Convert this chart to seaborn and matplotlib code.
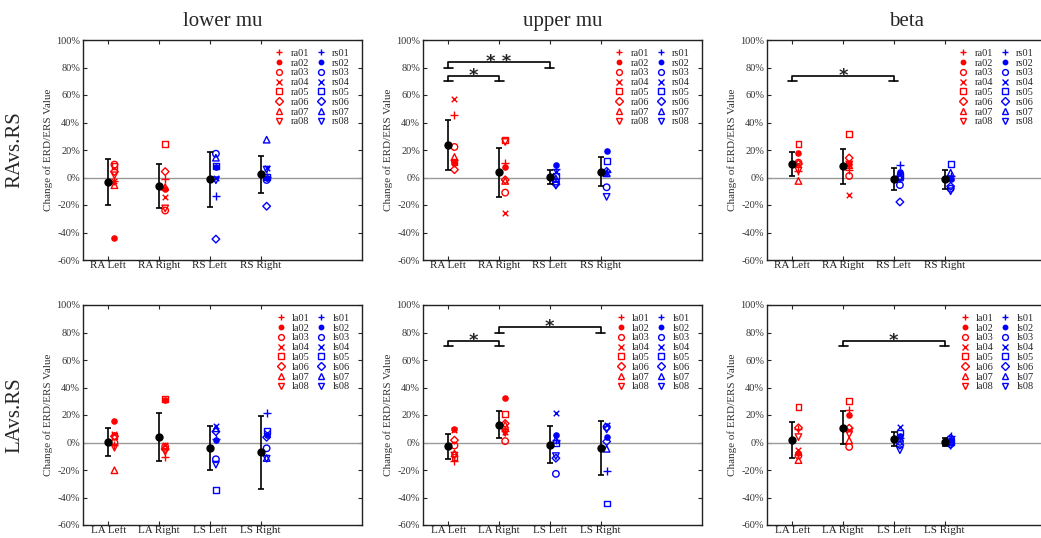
import numpy as np
import matplotlib
matplotlib.use("Agg")
import matplotlib.pyplot as plt
from matplotlib.lines import Line2D
import seaborn as sns

sns.set_style("ticks")
plt.rcParams["font.family"] = ["Liberation Serif", "DejaVu Serif"]
plt.rcParams["xtick.direction"] = "in"
plt.rcParams["ytick.direction"] = "in"

# ---------------------------------------------------------------- data
bands = ["lower mu", "upper mu", "beta"]
row_labels = ["RAvs.RS", "LAvs.RS"]
top_conditions = ["RA Left", "RA Right", "RS Left", "RS Right"]
bottom_conditions = ["LA Left", "LA Right", "LS Left", "LS Right"]
top_subjects_a = ["ra01", "ra02", "ra03", "ra04", "ra05", "ra06", "ra07", "ra08"]
top_subjects_s = ["rs01", "rs02", "rs03", "rs04", "rs05", "rs06", "rs07", "rs08"]
bottom_subjects_a = ["la01", "la02", "la03", "la04", "la05", "la06", "la07", "la08"]
bottom_subjects_s = ["ls01", "ls02", "ls03", "ls04", "ls05", "ls06", "ls07", "ls08"]
yticks = [-60, -40, -20, 0, 20, 40, 60, 80, 100]

# per-subject change of ERD/ERS (%), one row per condition, subjects 01..08
top_lower_mu_pts = [
    [-2.7, -43.8, 9.4, -2.7, 8.2, 4.3, -5.6, 1.6],
    [-0.8, -8.0, -24.0, -14.4, 24.5, 4.3, -7.0, -22.5],
    [-13.2, 7.7, 17.3, -0.3, 8.4, -44.8, 14.4, -2.0],
    [0.4, 0.0, -1.8, 7.0, 0.5, -20.9, 27.5, 5.7],
]
top_lower_mu_mean = [-3.3, -6.0, -1.3, 2.4]
top_lower_mu_sd = [17.0, 16.0, 20.0, 13.4]
top_lower_mu_sig = []

top_upper_mu_pts = [
    [45.6, 10.5, 22.2, 56.9, 11.3, 5.7, 14.9, 10.1],
    [10.8, 7.7, -11.0, -25.8, 27.0, -1.7, -2.5, 25.8],
    [6.0, 8.9, -3.0, 4.0, 0.9, -4.9, -0.8, -5.9],
    [4.0, 19.4, -7.1, 3.3, 11.7, 4.5, 3.0, -14.1],
]
top_upper_mu_mean = [23.6, 3.8, 0.4, 4.2]
top_upper_mu_sd = [18.0, 18.0, 5.3, 10.7]
top_upper_mu_sig = [(0, 1, 70, "*"), (0, 2, 80, "* *")]

top_beta_pts = [
    [4.5, 17.8, 10.8, 10.0, 24.1, 9.8, -2.5, 5.0],
    [5.7, 10.1, 1.1, -12.9, 31.8, 14.2, 8.9, 9.5],
    [9.3, 4.3, -5.5, 2.8, 1.1, -17.8, 0.0, -1.3],
    [1.4, -0.8, -8.1, 0.0, 9.6, -6.4, 3.5, -10.0],
]
top_beta_mean = [9.8, 8.2, -1.2, -1.3]
top_beta_sd = [8.4, 12.7, 8.2, 6.7]
top_beta_sig = [(0, 2, 70, "*")]

bottom_lower_mu_pts = [
    [-2.0, 15.6, -0.1, 5.9, 4.5, 4.5, -20.2, -3.8],
    [-10.3, 31.0, -3.0, -1.8, 31.6, -4.7, -3.0, -6.7],
    [2.5, 1.8, -12.2, 12.0, -34.3, 7.9, 10.3, -16.1],
    [21.7, 5.5, -4.2, 6.9, 8.6, 3.8, -11.3, -11.8],
]
bottom_lower_mu_mean = [0.6, 4.0, -3.8, -7.2]
bottom_lower_mu_sd = [10.3, 17.3, 15.9, 26.7]
bottom_lower_mu_sig = []

bottom_upper_mu_pts = [
    [-13.8, 9.7, -2.2, 9.0, -10.7, 1.7, -8.0, -9.5],
    [8.2, 32.5, 1.0, 7.3, 20.8, 13.8, 12.8, 7.0],
    [2.0, 5.8, -22.8, 21.6, -0.5, -11.4, 1.9, -9.9],
    [-20.4, 3.9, 11.2, 12.4, -44.4, 0.7, -4.6, 9.5],
]
bottom_upper_mu_mean = [-2.7, 12.8, -1.7, -3.9]
bottom_upper_mu_sd = [9.1, 9.8, 13.5, 19.6]
bottom_upper_mu_sig = [(0, 1, 70, "*"), (1, 3, 80, "*")]

bottom_beta_pts = [
    [9.5, -7.5, -9.5, -5.1, 25.5, 10.7, -12.8, 3.9],
    [23.5, 19.9, -3.2, 9.0, 30.3, 10.4, 1.5, 6.1],
    [3.0, 4.6, 0.5, 11.2, 7.3, -1.9, 3.4, -5.6],
    [4.5, 1.7, -1.2, 2.0, 0.2, 3.2, 1.0, -2.4],
]
bottom_beta_mean = [1.7, 10.9, 2.4, 0.7]
bottom_beta_sd = [12.9, 12.1, 5.0, 2.9]
bottom_beta_sig = [(1, 3, 70, "*")]

# ---------------------------------------------------------------- styling
subject_markers = ["+", "o", "o", "x", "s", "D", "^", "v"]
subject_filled = [None, True, False, None, False, False, False, False]
subject_sizes = [32, 14, 22, 16, 18, 15, 22, 22]
group_colors = ["#ff0000", "#0000ff"]   # active group, static group
point_offset = 0.12

panels = [
    [(top_lower_mu_pts, top_lower_mu_mean, top_lower_mu_sd, top_lower_mu_sig),
     (top_upper_mu_pts, top_upper_mu_mean, top_upper_mu_sd, top_upper_mu_sig),
     (top_beta_pts, top_beta_mean, top_beta_sd, top_beta_sig)],
    [(bottom_lower_mu_pts, bottom_lower_mu_mean, bottom_lower_mu_sd, bottom_lower_mu_sig),
     (bottom_upper_mu_pts, bottom_upper_mu_mean, bottom_upper_mu_sd, bottom_upper_mu_sig),
     (bottom_beta_pts, bottom_beta_mean, bottom_beta_sd, bottom_beta_sig)],
]
row_conditions = [top_conditions, bottom_conditions]
row_subjects = [(top_subjects_a, top_subjects_s), (bottom_subjects_a, bottom_subjects_s)]

W, H = 1041, 538
fig = plt.figure(figsize=(W / 100, H / 100), dpi=100)
col_left = [83, 423, 767]
col_width = 279
row_top = [40, 305]
row_height = 220


def draw_subject(ax, x, y, k, color):
    m = subject_markers[k]
    kw = dict(x=[x], y=[y], marker=m, s=subject_sizes[k], ax=ax,
              legend=False, zorder=3, linewidth=1.0)
    if subject_filled[k] is None:
        kw.update(color=color, edgecolor=None)
    elif subject_filled[k]:
        kw.update(color=color, edgecolor=color)
    else:
        kw.update(color=color, facecolor="none", edgecolor=color)
    sns.scatterplot(**kw)


def legend_handle(k, color):
    filled = subject_filled[k]
    return Line2D([], [], linestyle="none", marker=subject_markers[k],
                  markersize=4.2 if subject_markers[k] != "o" or filled is False else 3.2,
                  markeredgewidth=1.0, color=color,
                  markerfacecolor=color if filled else "none",
                  markeredgecolor=color)


for r in range(2):
    conds = row_conditions[r]
    subs_a, subs_s = row_subjects[r]
    for c in range(3):
        pts, means, sds, sig = panels[r][c]
        ax = fig.add_axes([col_left[c] / W, 1 - (row_top[r] + row_height) / H,
                           col_width / W, row_height / H])
        pos = np.arange(1, len(conds) + 1)

        ax.axhline(0, color="#9a9a9a", lw=1.0, zorder=1)

        for i, vals in enumerate(pts):
            color = group_colors[0] if i < 2 else group_colors[1]
            for k, v in enumerate(vals):
                draw_subject(ax, pos[i] + point_offset, v, k, color)

        ax.errorbar(pos, means, yerr=sds, fmt="o", color="black", ms=5,
                    capsize=2.2, elinewidth=1.2, capthick=1.2, zorder=4)

        # significance brackets
        for a, b, level, star in sig:
            xa, xb = pos[a], pos[b]
            hw, rise = 0.09, 4
            ax.plot([xa - hw, xa + hw], [level, level], color="black", lw=1.2)
            ax.plot([xb - hw, xb + hw], [level, level], color="black", lw=1.2)
            ax.plot([xa, xa, xb, xb], [level, level + rise, level + rise, level],
                    color="black", lw=1.2)
            ax.text((xa + xb) / 2, level + 0.3, star, ha="center", va="baseline",
                    fontsize=13, fontweight="bold", family="DejaVu Sans")

        ax.set_xlim(0.5, 6.0)
        ax.set_ylim(-60, 100)
        ax.set_xticks(pos)
        ax.set_xticklabels(conds, fontsize=8, color="#222222")
        ax.set_yticks(yticks)
        ax.set_yticklabels([f"{t}%" for t in yticks], fontsize=7.5, color="#333333")
        ax.set_ylabel("Change of ERD/ERS Value", fontsize=8, color="#333333", labelpad=2)
        ax.tick_params(axis="both", which="both", top=True, right=True,
                       length=3, width=0.8, pad=2)
        ax.tick_params(axis="x", pad=1)
        for sp in ax.spines.values():
            sp.set_visible(True)
            sp.set_linewidth(1.0)
            sp.set_color("#222222")

        handles = [legend_handle(k, group_colors[0]) for k in range(8)] + \
                  [legend_handle(k, group_colors[1]) for k in range(8)]
        labels = list(subs_a) + list(subs_s)
        ax.legend(handles, labels, ncol=2, loc="upper right",
                  bbox_to_anchor=(0.98, 0.99), frameon=False, fontsize=7.5,
                  labelspacing=0.05, handlelength=1.0, handletextpad=0.6,
                  columnspacing=0.6, borderaxespad=0.2)

        if r == 0:
            ax.set_title(bands[c], fontsize=15, pad=10)

for r in range(2):
    yc = 1 - (row_top[r] + row_height / 2) / H
    fig.text(15 / W, yc, row_labels[r], rotation=90, ha="center", va="center",
             fontsize=15)

fig.savefig("out.png", dpi=100, facecolor="white")
